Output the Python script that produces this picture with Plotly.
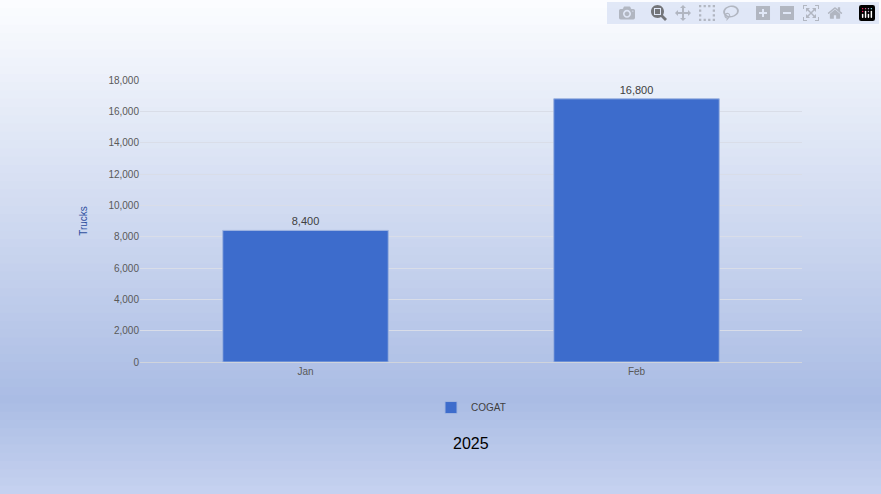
import plotly.graph_objects as go

months = ["Jan", "Feb"]
trucks = [8400, 16800]
series_name = "COGAT"
year_label = "2025"

W, H = 881, 494
ml, mr, mt, mb = 140, 79, 80, 132
pw, ph = W - ml - mr, H - mt - mb

fig = go.Figure()
fig.add_trace(go.Bar(
    x=months, y=trucks, name=series_name,
    marker=dict(color="#3d6ccc", line=dict(color="#9fb4e0", width=1)),
    text=[f"{v:,}" for v in trucks], textposition="outside",
    textfont=dict(size=11, color="#404040"), cliponaxis=False,
))

def lerp(c1, c2, t):
    return "rgb(%d,%d,%d)" % tuple(round(a + (b - a) * t) for a, b in zip(c1, c2))

top, mid, bot = (252, 253, 255), (170, 188, 228), (198, 210, 240)
n = 60
shapes = []
x0, x1 = -ml / pw, 1 + mr / pw
for i in range(n):
    py0 = H * i / n
    py1 = H * (i + 1) / n + 1
    c = (py0 + py1) / 2
    if c < 400:
        col = lerp(top, mid, c / 400)
    else:
        col = lerp(mid, bot, (c - 400) / (H - 400))
    y_top = (H - mb - py0) / ph
    y_bot = (H - mb - py1) / ph
    shapes.append(dict(type="rect", xref="paper", yref="paper", x0=x0, x1=x1,
                       y0=y_bot, y1=y_top, fillcolor=col, line=dict(width=0), layer="below"))

fig.update_layout(
    width=W, height=H, margin=dict(l=ml, r=mr, t=mt, b=mb),
    paper_bgcolor="#c8d3ef", plot_bgcolor="rgba(0,0,0,0)",
    shapes=shapes, bargap=0.5,
    font=dict(family="Liberation Sans, Arial", size=10, color="#595959"),
    yaxis=dict(range=[0, 18000], dtick=2000, tickformat=",", gridcolor="#d9dde8",
               zeroline=False, showline=False, ticks="", ticklen=0,
               title=dict(text="Trucks", font=dict(size=10, color="#2f4f9f"), standoff=18)),
    xaxis=dict(showline=True, linecolor="#d0d4dc", ticks=""),
    showlegend=True,
    legend=dict(orientation="h", x=0.5, xanchor="center", y=-0.11, yanchor="top",
                font=dict(size=10, color="#404040"), bgcolor="rgba(0,0,0,0)",
                itemwidth=30),
    annotations=[dict(text=year_label, xref="paper", yref="paper", x=0.5,
                      y=-(444 - (H - mb)) / ph, yanchor="middle", showarrow=False,
                      font=dict(size=16, color="#000000"))],
)
fig.write_html("out.html", post_script="document.body.style.margin='0';")
